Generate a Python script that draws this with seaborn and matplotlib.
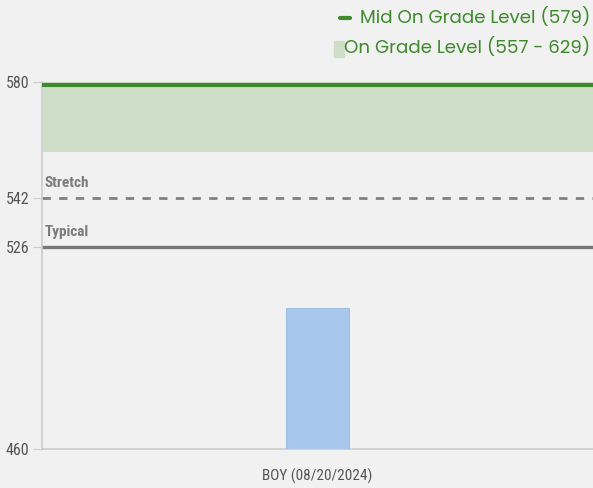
import matplotlib
matplotlib.use("Agg")
import matplotlib.pyplot as plt
import seaborn as sns
import pandas as pd

# Data
periods = ["BOY (08/20/2024)"]
scores = [506]
y_ticks = [460, 526, 542, 580]
y_min, y_max = 460, 580
typical_score = 526
stretch_score = 542
on_grade_low, on_grade_high = 557, 629
mid_on_grade = 579

sns.set_theme(style="white")
plt.rcParams["font.family"] = ["Roboto Condensed", "DejaVu Sans"]

bg = "#f1f1f1"
fig = plt.figure(figsize=(5.93, 4.88), dpi=100, facecolor=bg)
ax = fig.add_axes([42 / 593, 1 - 449 / 488, 551 / 593, 367 / 488], facecolor=bg)

df = pd.DataFrame({"period": periods, "score": scores})
sns.barplot(data=df, x="period", y="score", color="#a7c8ec", saturation=1,
            width=0.115, ax=ax, zorder=3)
for p in ax.patches:
    p.set_edgecolor("#93b9e4")
    p.set_linewidth(0.6)

ax.set_xlim(-0.5, 0.5)
ax.set_ylim(y_min, y_max)

# On-grade band and its midpoint
ax.axhspan(on_grade_low, on_grade_high, color="#cfdec9", zorder=1, lw=0)
ax.axhline(mid_on_grade, color="#3e8a2c", lw=3, zorder=4)

# Growth reference lines
ax.axhline(stretch_score, color="#808080", lw=2, ls=(0, (3, 3)), zorder=2)
ax.axhline(typical_score, color="#777777", lw=2.4, zorder=2)
ax.text(-0.495, stretch_score + 2.6, "Stretch", fontsize=11, fontweight="bold",
        color="#7b7b7b", va="bottom", ha="left")
ax.text(-0.495, typical_score + 2.6, "Typical", fontsize=11, fontweight="bold",
        color="#7b7b7b", va="bottom", ha="left")

ax.set_yticks(y_ticks)
ax.set_yticklabels([str(t) for t in y_ticks])
ax.tick_params(axis="y", length=6.5, width=0.8, color="#cccccc", labelsize=11.5,
               labelcolor="#555555", pad=2.5, left=True)
ax.tick_params(axis="x", length=0, labelsize=11, labelcolor="#555555", pad=14)
ax.set_xlabel("")
ax.set_ylabel("")

for s in ["top", "right"]:
    ax.spines[s].set_visible(False)
for s in ["left", "bottom"]:
    ax.spines[s].set_color("#cccccc")
    ax.spines[s].set_linewidth(1.2)

# Legend drawn as figure text
green = "#3e8a2c"
leg_family = ["Poppins", "DejaVu Sans"]
fig.text(590 / 593, 1 - 18 / 488, "Mid On Grade Level (579)", ha="right", va="center",
         fontsize=13.2, color=green, family=leg_family)
fig.text(590 / 593, 1 - 48 / 488, "On Grade Level (557 - 629)", ha="right", va="center",
         fontsize=13.2, color=green, family=leg_family)
fig.add_artist(plt.Line2D([340 / 593, 350 / 593], [1 - 18 / 488, 1 - 18 / 488],
                          color=green, lw=3, transform=fig.transFigure))
fig.add_artist(plt.Rectangle((334 / 593, 1 - 57 / 488), 10 / 593, 16 / 488,
                             color="#cfdec9", transform=fig.transFigure))

fig.savefig("out.png", dpi=100, facecolor=bg)
